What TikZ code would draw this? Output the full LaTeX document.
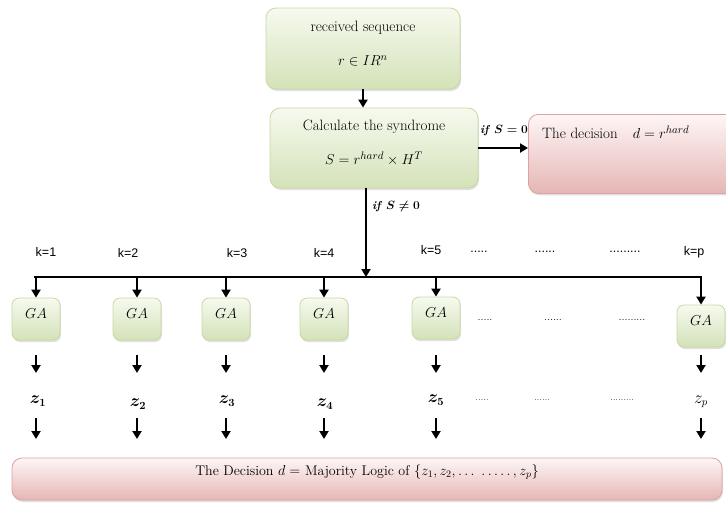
\documentclass[tikz,border=0pt]{standalone}
\usepackage{amsmath,amssymb}
\usepackage{fontspec}
\newfontfamily\ksans{Liberation Sans}
\usetikzlibrary{arrows.meta,shadows}
\definecolor{gtop}{HTML}{F6FAEF}
\definecolor{gbot}{HTML}{D4E2B8}
\definecolor{gline}{HTML}{C7D9A3}
\definecolor{ptop}{HTML}{FEF6F6}
\definecolor{pbot}{HTML}{E5B6B5}
\definecolor{pline}{HTML}{DCA3A2}
\tikzset{
  shad/.style={drop shadow={shadow xshift=1pt,shadow yshift=-2pt,opacity=0.25}},
  gbox/.style={draw=gline, line width=0.8pt, rounded corners=10pt, top color=gtop, bottom color=gbot, shad, inner sep=0pt},
  gabox/.style={gbox, rounded corners=7pt, minimum width=48pt, minimum height=42pt, text height=8pt, text depth=10pt, font=\fontsize{14}{16}\selectfont},
  pbox/.style={draw=pline, line width=0.8pt, rounded corners=10pt, top color=ptop, bottom color=pbot, shad, inner sep=0pt},
  txt/.style={inner sep=1pt},
  cond/.style={inner sep=1pt, font=\fontsize{11.5}{13}\selectfont},
  ztxt/.style={inner sep=1pt, font=\fontsize{16}{18}\selectfont},
  arr/.style={line width=2.3pt, -{Triangle[width=9pt,length=8pt]}},
  bus/.style={line width=2.6pt},
  klab/.style={font=\ksans\fontsize{12.5}{14}\selectfont, inner sep=1pt},
  dots/.style={font=\fontsize{11}{12}\selectfont, inner sep=1pt},
  zdots/.style={font=\itshape\fontsize{8}{9}\selectfont, inner sep=1pt}
}
\newcommand{\condz}{\textbf{\textit{if}}~$\boldsymbol{S = 0}$}
\newcommand{\condn}{\textbf{\textit{if}}~$\boldsymbol{S \neq 0}$}
\begin{document}
\begin{tikzpicture}[x=1pt,y=-1pt,font=\fontsize{15}{17}\selectfont]
\useasboundingbox (0,0) rectangle (726,504);
\clip (0,0) rectangle (726,504);

% top box
\node[gbox, minimum width=194pt, minimum height=81pt] (rx) at (363,48.5) {};
\node[txt] (rxa) at (363,28) {received sequence};
\node[txt] (rxb) at (363,61) {$r \in IR^{n}$};

% syndrome box
\node[gbox, minimum width=208pt, minimum height=80pt] (syn) at (374,148) {};
\node[txt] (syna) at (374,127) {Calculate the syndrome};
\node[txt] (synb) at (374,159) {$S = r^{hard} \times H^{T}$};

% decision box (right, cut off)
\node[pbox, anchor=north west, minimum width=215pt, minimum height=79pt] (dec) at (528,114) {};
\node[txt, anchor=west] (deca) at (541,132) {The decision\quad $d = r^{hard}$};

\draw[arr] (rx.south) -- (rx.south |- syn.north);
\draw[arr] (syn.east) -- (dec.west |- syn.east);
\node[cond] (lzero) at (504,131) {\condz};

% vertical to bus
\coordinate (bm) at (366,277);
\draw[arr] (syn.south -| bm) -- (bm);
\node[cond] (lnz) at (396,206) {\condn};

% bus
\coordinate (bl) at (34,277);
\coordinate (br) at (702,277);
\draw[bus] (bl) -- (br);

% k labels
\node[klab] (k1) at (46,252) {k=1};
\node[klab] (k2) at (128,253) {k=2};
\node[klab] (k3) at (237,253) {k=3};
\node[klab] (k4) at (324,253) {k=4};
\node[klab] (k5) at (431,250) {k=5};
\node[klab] (kd1) at (479,252) {.....};
\node[klab] (kd2) at (545,252) {......};
\node[klab] (kd3) at (625,252) {.........};
\node[klab] (kp) at (694,252) {k=p};

% GA boxes and arrows
\foreach \i/\x/\y in {1/36/319, 2/137/319, 3/226/319, 4/324/319, 5/436/318, 6/701/326} {
  \node[gabox] (ga\i) at (\x,\y) {$GA$};
  \draw[arr] (ga\i.north |- bl) -- (ga\i.north);
  \coordinate (a\i) at (\x,355);
  \coordinate (b\i) at (\x,373);
  \draw[arr] (a\i) -- (b\i);
  \coordinate (c\i) at (\x,418);
  \coordinate (d\i) at (\x,439);
  \draw[arr] (c\i) -- (d\i);
}
\node[dots] (gd1) at (485,320) {.....};
\node[dots] (gd2) at (553,320) {......};
\node[dots] (gd3) at (632,320) {.........};

% z labels
\node[ztxt] (z1) at (38,401) {$\boldsymbol{z_1}$};
\node[ztxt] (z2) at (138,404) {$\boldsymbol{z_2}$};
\node[ztxt] (z3) at (227,401) {$\boldsymbol{z_3}$};
\node[ztxt] (z4) at (325,404) {$\boldsymbol{z_4}$};
\node[ztxt] (z5) at (436,400) {$\boldsymbol{z_5}$};
\node[zdots] (zd1) at (482,400) {.....};
\node[zdots] (zd2) at (542,400) {......};
\node[zdots] (zd3) at (622,400) {.........};
\node[ztxt] (zp) at (701,402) {$z_p$};

% final decision box
\node[pbox, minimum width=710pt, minimum height=42pt] (fin) at (367,479) {};
\node[txt, font=\fontsize{14}{16}\selectfont] (fint) at (367,472) {The Decision $d =$ Majority Logic of $\{z_1, z_2, \ldots\ \ldots.\,.\,, z_p\}$};
\end{tikzpicture}
\end{document}
